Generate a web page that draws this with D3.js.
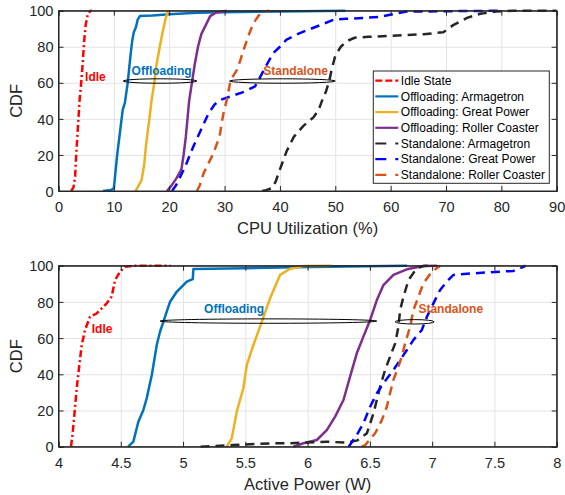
<!DOCTYPE html>
<html><head><meta charset="utf-8">
<script src="https://cdn.jsdelivr.net/npm/d3@7"></script>
<style>
body{margin:0;background:#fff}
text{font-family:"Liberation Sans",Arial,Helvetica,sans-serif}
</style>
</head><body>
<svg id="c" width="565" height="495"></svg>
<script>
// ---------- data ----------
const seriesNames = ["Idle State","Offloading: Armagetron","Offloading: Great Power","Offloading: Roller Coaster",
  "Standalone: Armagetron","Standalone: Great Power","Standalone: Roller Coaster"];
const seriesColors = ["#FF0000","#0072BD","#EDB120","#7E2F8E","#262626","#0000FF","#D95319"];
const seriesDash = ["7,3,2,3",null,null,null,"9,6","9,6","9,6"];

const cdfTicks = [0,20,40,60,80,100];
const cpuTicks = [0,10,20,30,40,50,60,70,80,90];
const powerTicks = [4,4.5,5,5.5,6,6.5,7,7.5,8];

// CPU utilization (%) vs CDF (%)
const idleCpu = [[2.3,0],[2.7,2],[3.0,8],[3.2,20],[3.5,35],[3.8,50],[4.1,60],[4.4,72],[4.6,82],[4.9,92],[5.3,98],[5.8,100],[6.0,100]];
const offArmCpu = [[8.0,0],[9.5,0.5],[10.0,1.5],[10.6,20],[11.2,35],[11.6,45],[12.0,49],[12.5,60],[13.0,75],[13.3,83],[13.6,88],[14.0,91],[14.3,95],[14.7,97],[17,97.3],[20,98],[25,98.8],[30,99.2],[40,99.6],[51.8,100]];
const offGpCpu = [[13.9,0],[14.3,2],[15.0,6],[15.5,15],[15.8,25],[16.2,35],[16.5,42],[16.8,50],[17.3,60],[17.7,70],[18.3,80],[18.8,88],[19.3,95],[19.8,100]];
const offRcCpu = [[19.6,0],[20.4,3],[21.3,7],[22.2,12],[22.6,20],[23.0,30],[23.3,40],[23.6,50],[24.1,60],[24.6,70],[25.2,80],[25.8,87],[26.6,92],[27.4,97],[28.5,99],[30.4,100]];
const saArmCpu = [[36.8,0],[37.5,0.5],[38.5,1.5],[39.2,5],[40.0,12],[41.2,22],[42.5,30],[44.2,36],[46.1,41],[47.0,45],[47.6,50],[48.3,55],[48.9,61],[49.4,68],[50.0,75],[51.0,80],[52.0,83],[53.5,85],[56,85.5],[60,86],[63,86.5],[66,87],[69.5,88],[71.3,92],[73.8,96],[76.2,98.3],[79,99.5],[82,100],[90,100]];
const saGpCpu = [[20.5,0],[21.2,3],[22.0,8],[22.9,13.5],[23.6,19],[24.4,25],[25.6,33],[27.1,43],[28.2,48],[29.2,50.5],[31.6,53],[33.5,55],[35.5,58],[36.4,63],[37.6,70],[38.8,76.5],[40.0,80],[41.2,84],[43.6,87.6],[47.3,92],[49.7,95],[52,95.5],[55,96],[58,96.5],[59.9,97.8],[62.9,99.5],[70,99.7],[80,100]];
const saRcCpu = [[25.0,0],[25.5,3],[26.2,9.8],[27.2,16],[28.0,21],[28.7,27],[29.2,32],[29.5,38],[29.8,43],[30.4,50.5],[31.0,60],[31.6,64],[32.2,67],[32.8,72],[33.4,78],[34.3,86],[35.2,93],[36.2,97.5],[37.0,99.4],[38.0,100]];

// Active power (W) vs CDF (%)
const idlePow = [[4.10,0],[4.11,5],[4.125,15.7],[4.146,32],[4.167,45],[4.186,56],[4.213,64.5],[4.253,71.8],[4.307,73.7],[4.387,79.2],[4.427,83],[4.454,92],[4.494,96.7],[4.534,99.4],[4.6,100],[4.9,100]];
const offArmPow = [[4.56,0],[4.601,2.8],[4.641,13.8],[4.68,20],[4.708,26.7],[4.749,39.6],[4.789,56.2],[4.815,63.5],[4.842,69],[4.869,74.6],[4.896,80.1],[4.949,85.6],[5.03,91.2],[5.078,92.6],[5.083,98.2],[5.5,98.6],[5.9,99.2],[6.3,99.6],[6.8,100]];
const offGpPow = [[5.35,0],[5.391,4.6],[5.431,19.3],[5.484,32.3],[5.512,45.2],[5.565,56.2],[5.632,69],[5.699,82],[5.779,94.9],[5.859,98.3],[5.966,99.8],[6.194,100]];
const offRcPow = [[5.886,0],[5.966,1.9],[6.074,3.7],[6.154,9.2],[6.221,16.6],[6.288,25.8],[6.341,38.7],[6.395,51.6],[6.448,60.8],[6.502,70],[6.556,81],[6.609,89.3],[6.689,94.9],[6.797,98],[6.93,99.8],[7.04,100]];
const saArmPow = [[5.14,0],[5.4,0.9],[5.72,1.9],[5.86,1.9],[6.15,2.8],[6.31,2.2],[6.40,3.5],[6.476,7.4],[6.529,18.4],[6.582,33.1],[6.622,42.4],[6.662,49.7],[6.703,57.1],[6.729,66.3],[6.743,75.5],[6.77,82.9],[6.81,92.1],[6.877,98.6],[6.93,99.8],[6.97,100]];
const saGpPow = [[6.33,0],[6.395,6.5],[6.448,12.9],[6.502,22.1],[6.556,29.5],[6.609,35],[6.689,42.4],[6.743,47.9],[6.797,53.4],[6.85,59],[6.917,64.5],[6.958,71.8],[7.01,79.2],[7.064,86.6],[7.118,91.2],[7.171,94.9],[7.332,95.8],[7.546,96.7],[7.653,97.1],[7.733,99.4],[7.75,100]];
const saRcPow = [[6.435,0],[6.462,0.9],[6.542,7.4],[6.596,14.7],[6.636,22.1],[6.662,29.5],[6.689,36.9],[6.729,44.2],[6.756,49.7],[6.783,57.1],[6.823,66.3],[6.85,75.5],[6.89,82.9],[6.93,90.3],[6.997,96.7],[7.064,100]];

// annotations: [text, x, cdf, colour]
const cpuLabels = [["Idle",4.8,61,"#FF0000"],["Offloading",13.2,64.4,"#0072BD"],["Standalone",37.0,64.4,"#D95319"]];
const cpuEllipses = [[11.7,25.0,61],[30.9,50.0,61]];
const powLabels = [["Idle",4.267,62.8,"#FF0000"],["Offloading",5.169,73.9,"#0072BD"],["Standalone",6.89,73.9,"#D95319"]];
const powEllipses = [[4.815,6.556,69.4],[6.703,7.016,69.0]];

// ---------- drawing ----------
const svg = d3.select("#c");
const L = 58.5, R = 556.7;
const axisCol = "#262626";

function panel(o){
  const x = d3.scaleLinear().domain(o.xDomain).range([L,R]);
  const y = d3.scaleLinear().domain([0,100]).range([o.bottom,o.top]);
  const g = svg.append("g");
  const W = R-L, H = o.bottom-o.top;
  // grid
  g.append("g").attr("transform",`translate(0,${o.bottom})`)
    .call(d3.axisBottom(x).tickValues(o.xTicks).tickSize(-H).tickFormat(""))
    .call(s=>{s.select(".domain").remove();s.selectAll("line").attr("stroke","#e3e3e3").attr("stroke-width",1);});
  g.append("g").attr("transform",`translate(${L},0)`)
    .call(d3.axisLeft(y).tickValues(cdfTicks).tickSize(-W).tickFormat(""))
    .call(s=>{s.select(".domain").remove();s.selectAll("line").attr("stroke","#e3e3e3").attr("stroke-width",1);});
  // clip
  const cid = "clip"+o.id;
  svg.append("clipPath").attr("id",cid).append("rect").attr("x",L).attr("y",o.top-2).attr("width",W).attr("height",H+3);
  const line = d3.line().x(d=>x(d[0])).y(d=>y(d[1]));
  const lg = g.append("g").attr("clip-path",`url(#${cid})`);
  o.series.forEach((s,i)=>{
    lg.append("path").attr("d",line(s)).attr("fill","none")
      .attr("stroke",seriesColors[i]).attr("stroke-width",2.5)
      .attr("stroke-dasharray",seriesDash[i]).attr("stroke-linejoin","round");
  });
  // ellipses
  o.ellipses.forEach(e=>{
    g.append("ellipse").attr("cx",(x(e[0])+x(e[1]))/2).attr("cy",y(e[2]))
      .attr("rx",(x(e[1])-x(e[0]))/2).attr("ry",2.2)
      .attr("fill","none").attr("stroke","#000").attr("stroke-width",1);
  });
  // labels
  o.labels.forEach(t=>{
    g.append("text").attr("x",x(t[1])).attr("y",y(t[2])).text(t[0])
      .attr("fill",t[3]).attr("font-weight","bold").attr("font-size","12px");
  });
  // axes
  const ax = g.append("g").attr("class","ax").attr("transform",`translate(0,${o.bottom})`)
    .call(d3.axisBottom(x).tickValues(o.xTicks).tickSize(-5).tickPadding(0).tickFormat(o.fmt));
  ax.selectAll("text").attr("y",21).attr("dy",0).attr("font-size","14.6px").attr("fill",axisCol);
  const ay = g.append("g").attr("class","ax").attr("transform",`translate(${L},0)`)
    .call(d3.axisLeft(y).tickValues(cdfTicks).tickSize(-5).tickPadding(0).tickFormat(d3.format("d")));
  ay.selectAll("text").attr("x",-5).attr("dy","0.35em").attr("font-size","14.6px").attr("fill",axisCol);
  g.append("g").attr("class","ax").attr("transform",`translate(0,${o.top})`)
    .call(d3.axisTop(x).tickValues(o.xTicks).tickSize(-5).tickFormat(""));
  g.append("g").attr("class","ax").attr("transform",`translate(${R},0)`)
    .call(d3.axisRight(y).tickValues(cdfTicks).tickSize(-5).tickFormat(""));
  g.selectAll(".ax .domain").attr("stroke",axisCol);
  g.selectAll(".ax .tick line").attr("stroke",axisCol);
  g.selectAll(".ax text").attr("font-family",'"Liberation Sans",Arial,sans-serif');
  // box frame
  g.append("rect").attr("x",L).attr("y",o.top).attr("width",W).attr("height",H)
    .attr("fill","none").attr("stroke",axisCol).attr("stroke-width",1);
  // axis titles
  g.append("text").attr("x",(L+R)/2).attr("y",o.bottom+43).attr("text-anchor","middle")
    .attr("font-size","16.5px").attr("fill",axisCol).text(o.xLabel);
  g.append("text").attr("transform",`translate(21.5,${(o.top+o.bottom)/2}) rotate(-90)`)
    .attr("text-anchor","middle").attr("font-size","16.5px").attr("fill",axisCol).text("CDF");
  return {x,y,g};
}

panel({id:1, top:10.7, bottom:191, xDomain:[0,90], xTicks:cpuTicks, fmt:d3.format("d"),
  xLabel:"CPU Utilization (%)", series:[idleCpu,offArmCpu,offGpCpu,offRcCpu,saArmCpu,saGpCpu,saRcCpu],
  labels:cpuLabels, ellipses:cpuEllipses});
panel({id:2, top:265.7, bottom:446.7, xDomain:[4,8], xTicks:powerTicks, fmt:d=>String(d),
  xLabel:"Active Power (W)", series:[idlePow,offArmPow,offGpPow,offRcPow,saArmPow,saGpPow,saRcPow],
  labels:powLabels, ellipses:powEllipses});

// legend (top panel)
const lx = 373.3, ly = 71, lw = 176, lh = 112.3, rowH = 15.7;
const leg = svg.append("g");
leg.append("rect").attr("x",lx).attr("y",ly).attr("width",lw).attr("height",lh)
  .attr("fill","#fff").attr("stroke",axisCol).attr("stroke-width",1);
seriesNames.forEach((n,i)=>{
  const cy = ly + 9.7 + i*rowH;
  leg.append("line").attr("x1",lx+2).attr("x2",lx+25).attr("y1",cy).attr("y2",cy)
    .attr("stroke",seriesColors[i]).attr("stroke-width",2.2)
    .attr("stroke-dasharray", i===0 ? "7,3" : (seriesDash[i] ? "11,9" : null));
  leg.append("text").attr("x",lx+27.5).attr("y",cy).attr("dy","0.35em")
    .attr("font-size","12px").attr("fill","#000").text(n);
});
</script>
</body></html>
